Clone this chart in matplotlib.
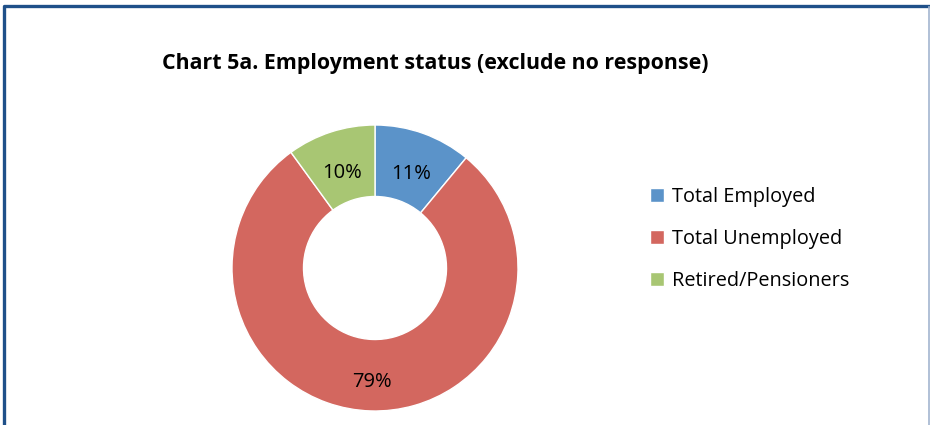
import matplotlib.pyplot as plt
from matplotlib.lines import Line2D
from matplotlib.transforms import offset_copy

labels = ['Total Employed', 'Total Unemployed', 'Retired/Pensioners']
shares = [11, 79, 10]
colors = ['#5B93C9', '#D3675F', '#A8C673']

W, H = 930, 425
fig = plt.figure(figsize=(W / 100, H / 100), dpi=100)

# frame: dark blue on left and top, pale line on the right
fig.add_artist(Line2D([3.5 / W, 3.5 / W, 1.0], [0, 1 - 5.5 / H, 1 - 5.5 / H],
                      transform=fig.transFigure, color='#1F5089', linewidth=2.4))
fig.add_artist(Line2D([929 / W, 929 / W], [0, 1 - 7 / H],
                      transform=fig.transFigure, color='#A3B5CF', linewidth=1.2))

cx, cy, r = 375, 268, 143
ax = fig.add_axes([(cx - r) / W, (H - cy - r) / H, 2 * r / W, 2 * r / H])
wedges, _, autotexts = ax.pie(shares, colors=colors, startangle=90, counterclock=False,
                              radius=1, autopct='%d%%', pctdistance=0.75,
                              wedgeprops=dict(width=0.5, edgecolor='white', linewidth=1),
                              textprops=dict(fontsize=14.5, family='Open Sans'))
ax.set_xlim(-1, 1)
ax.set_ylim(-1, 1)

# nudge the percentage labels down a little
for t in autotexts:
    t.set_transform(offset_copy(ax.transData, fig=fig, x=0, y=-5, units='points'))

fig.text(435 / W, 1 - 64 / H, 'Chart 5a. Employment status (exclude no response)',
         ha='center', va='center', fontsize=15.4, fontweight='bold', family='Open Sans')

fig.legend(wedges, labels, loc='center left', bbox_to_anchor=(632 / W, 1 - 239 / H),
           frameon=False, handlelength=0.7, handleheight=0.7, handletextpad=0.4,
           labelspacing=1.1, prop=dict(family='Open Sans', size=14.3))

fig.savefig('out.png', dpi=100)
